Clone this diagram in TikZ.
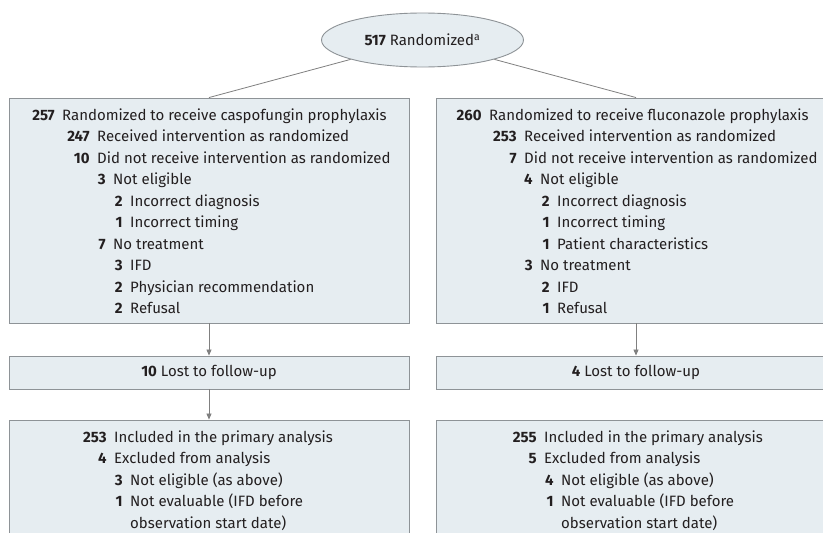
\documentclass[tikz,border=0pt]{standalone}
\usepackage{fontspec}
\setmainfont{Fira Sans}
\usetikzlibrary{shapes.geometric,arrows.meta}
\definecolor{boxfill}{HTML}{E6EDF1}
\definecolor{boxline}{HTML}{8E9397}
\definecolor{arrline}{HTML}{808080}
\definecolor{ink}{HTML}{231F20}
\newcommand\fsz{\fontsize{15}{18}\selectfont}
\newcommand\entry[5]{\node[lbl] (#1) at (#2,#3) {\llap{\textbf{#4}\hspace{7.5pt}}#5};}
\begin{document}
\begin{tikzpicture}[x=1pt,y=-1pt,
  box/.style={draw=boxline,fill=boxfill,line width=0.9pt,minimum width=400pt,inner sep=0pt,font=\fsz,text=ink},
  lbl/.style={anchor=base west,inner sep=0pt,font=\fsz,text=ink},
  conn/.style={draw=arrline,line width=0.8pt},
  arr/.style={conn,-{Triangle[width=5pt,length=6pt]}}]
\useasboundingbox (0,0) rectangle (823,533);
\fill[white] (0,0) rectangle (823,533);
\clip (0,0) rectangle (823,533);
% ellipse
\node[ellipse,draw=boxline,fill=boxfill,line width=0.9pt,minimum width=202pt,minimum height=54pt,inner sep=0pt,font=\fsz,text=ink] (rand) at (422.5,40) {\textbf{517} Randomized\textsuperscript{a}};
% boxes
\node[box,minimum height=225pt] (topL) at (209,210.5) {};
\node[box,minimum height=225pt] (topR) at (636,210.5) {};
\node[box,minimum height=33pt] (lostL) at (209,372.5) {\textbf{10} Lost to follow-up};
\node[box,minimum height=33pt] (lostR) at (636,372.5) {\textbf{4} Lost to follow-up};
\node[box,minimum height=130pt] (botL) at (209,485) {};
\node[box,minimum height=130pt] (botR) at (636,485) {};
% connectors
\draw[conn] (rand) -- (topL.north);
\draw[conn] (rand) -- (topR.north);
\draw[arr] (topL.south) -- (lostL.north);
\draw[arr] (topR.south) -- (lostR.north);
\draw[arr] (lostL.south) -- (botL.north);
% left top text
\entry{l1}{62}{120}{257}{Randomized to receive caspofungin prophylaxis}
\entry{l2}{97}{141.5}{247}{Received intervention as randomized}
\entry{l3}{97}{163}{10}{Did not receive intervention as randomized}
\entry{l4}{113}{184.5}{3}{Not eligible}
\entry{l5}{130}{206}{2}{Incorrect diagnosis}
\entry{l6}{130}{227.5}{1}{Incorrect timing}
\entry{l7}{113}{249}{7}{No treatment}
\entry{l8}{130}{270.5}{3}{IFD}
\entry{l9}{130}{292}{2}{Physician recommendation}
\entry{l10}{130}{313.5}{2}{Refusal}
% right top text
\entry{r1}{489}{120}{260}{Randomized to receive fluconazole prophylaxis}
\entry{r2}{524}{141.5}{253}{Received intervention as randomized}
\entry{r3}{524}{163}{7}{Did not receive intervention as randomized}
\entry{r4}{540}{184.5}{4}{Not eligible}
\entry{r5}{557}{206}{2}{Incorrect diagnosis}
\entry{r6}{557}{227.5}{1}{Incorrect timing}
\entry{r7}{557}{249}{1}{Patient characteristics}
\entry{r8}{540}{270.5}{3}{No treatment}
\entry{r9}{557}{292}{2}{IFD}
\entry{r10}{557}{313.5}{1}{Refusal}
% bottom left
\entry{bl1}{114}{442}{253}{Included in the primary analysis}
\entry{bl2}{114}{463.5}{4}{Excluded from analysis}
\entry{bl3}{130}{485}{3}{Not eligible (as above)}
\entry{bl4}{130}{506.5}{1}{Not evaluable (IFD before}
\node[lbl] (bl5) at (130,528) {observation start date)};
% bottom right
\entry{br1}{544}{442}{255}{Included in the primary analysis}
\entry{br2}{544}{463.5}{5}{Excluded from analysis}
\entry{br3}{561}{485}{4}{Not eligible (as above)}
\entry{br4}{561}{506.5}{1}{Not evaluable (IFD before}
\node[lbl] (br5) at (561,528) {observation start date)};
\end{tikzpicture}
\end{document}
